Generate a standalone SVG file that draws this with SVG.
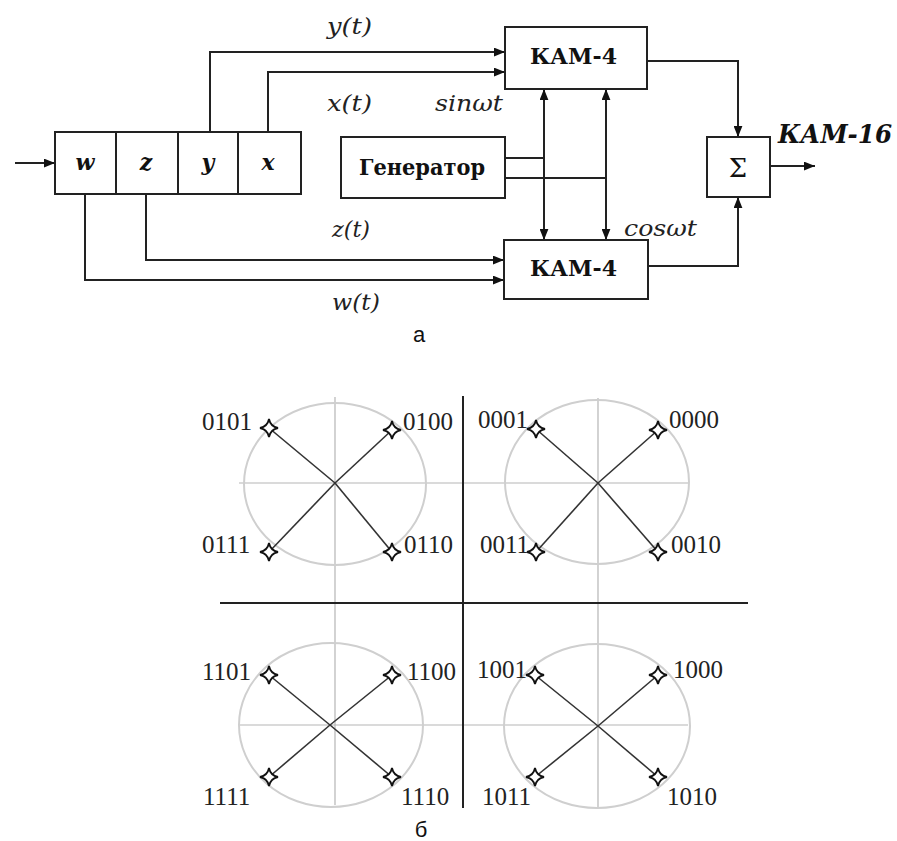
<svg xmlns="http://www.w3.org/2000/svg" width="897" height="841" viewBox="0 0 897 841">
<style>
.bx{fill:#fff;stroke:#222;stroke-width:2}
.cn{fill:none;stroke:#222;stroke-width:2}
.ser{font-family:"DejaVu Serif","Liberation Serif",serif;fill:#111}
.lb{font-family:"DejaVu Serif","Liberation Serif",serif;font-style:italic;font-size:22px;fill:#222}
.reg{font-family:"DejaVu Serif","Liberation Serif",serif;font-style:italic;font-weight:bold;font-size:22px;fill:#111}
.bt{font-family:"DejaVu Serif","Liberation Serif",serif;font-weight:bold;font-size:23px;fill:#111}
.num{font-family:"Liberation Serif","DejaVu Serif",serif;font-size:25px;fill:#222}
.circ{fill:none;stroke:#cfcfcf;stroke-width:2}
.ax{stroke:#b5b5b5;stroke-width:1.2}
.dv{stroke:#222;stroke-width:2}
.vec{stroke:#333;stroke-width:1.6}
.st{fill:#fff;stroke:#111;stroke-width:1.8}
.cap{font-family:"Liberation Sans",Arial,sans-serif;font-size:22px;fill:#111}
</style>
<defs>
<marker id="ah" viewBox="0 0 10 8" refX="10" refY="4" markerWidth="11" markerHeight="9" markerUnits="userSpaceOnUse" orient="auto-start-reverse">
<path d="M0,0 L10,4 L0,8 z" fill="#111"/>
</marker>
<path id="star" d="M0,-9 Q1.5,-1.5 9,0 Q1.5,1.5 0,9 Q-1.5,1.5 -9,0 Q-1.5,-1.5 0,-9 Z"/>
</defs>

<g id="connectors">
<path class="cn" d="M15,163 H55" marker-end="url(#ah)"/>
<path class="cn" d="M210,132 V52 H505" marker-end="url(#ah)"/>
<path class="cn" d="M268,132 V72 H505" marker-end="url(#ah)"/>
<path class="cn" d="M146,194 V260 H504" marker-end="url(#ah)"/>
<path class="cn" d="M85,194 V280 H504" marker-end="url(#ah)"/>
<path class="cn" d="M505,158 H544"/>
<path class="cn" d="M505,178 H606"/>
<path class="cn" d="M544,89 V240" marker-start="url(#ah)" marker-end="url(#ah)"/>
<path class="cn" d="M606,89 V240" marker-start="url(#ah)" marker-end="url(#ah)"/>
<path class="cn" d="M647,61 H738 V137" marker-end="url(#ah)"/>
<path class="cn" d="M648,266 H738 V197" marker-end="url(#ah)"/>
<path class="cn" d="M770,166 H815" marker-end="url(#ah)"/>
</g>

<g id="register">
<rect class="bx" x="55" y="132" width="246" height="62"/>
<line class="dv" x1="116" y1="132" x2="116" y2="194"/>
<line class="dv" x1="178" y1="132" x2="178" y2="194"/>
<line class="dv" x1="238" y1="132" x2="238" y2="194"/>
<text class="reg" x="85" y="170" text-anchor="middle">w</text>
<text class="reg" x="146" y="170" text-anchor="middle">z</text>
<text class="reg" x="208" y="170" text-anchor="middle">y</text>
<text class="reg" x="268" y="170" text-anchor="middle">x</text>
</g>

<g id="kam4-top">
<rect class="bx" x="505" y="27" width="142" height="62"/>
<text class="bt" x="530" y="64" textLength="87" lengthAdjust="spacingAndGlyphs">КАМ-4</text>
</g>

<g id="generator">
<rect class="bx" x="341" y="137" width="164" height="61"/>
<text class="bt" x="359" y="175" textLength="126" lengthAdjust="spacingAndGlyphs">Генератор</text>
</g>

<g id="kam4-bottom">
<rect class="bx" x="504" y="240" width="144" height="59"/>
<text class="bt" x="530" y="276" textLength="87" lengthAdjust="spacingAndGlyphs">КАМ-4</text>
</g>

<g id="sum">
<rect class="bx" x="707" y="137" width="63" height="60"/>
<text class="ser" x="738" y="177" text-anchor="middle" font-size="26">Σ</text>
</g>

<g id="labels-a">
<text class="lb" x="327" y="34" textLength="45" lengthAdjust="spacingAndGlyphs">y(t)</text>
<text class="lb" x="327" y="111" textLength="45" lengthAdjust="spacingAndGlyphs">x(t)</text>
<text class="lb" x="435" y="111" textLength="68" lengthAdjust="spacingAndGlyphs">sinωt</text>
<text class="lb" x="332" y="237" textLength="38" lengthAdjust="spacingAndGlyphs">z(t)</text>
<text class="lb" x="624" y="236" textLength="73" lengthAdjust="spacingAndGlyphs">cosωt</text>
<text class="lb" x="332" y="310" textLength="48" lengthAdjust="spacingAndGlyphs">w(t)</text>
<text class="ser" x="778" y="143" font-size="26" font-weight="bold" font-style="italic" textLength="114" lengthAdjust="spacingAndGlyphs">КАМ-16</text>
<text class="cap" x="419" y="342" text-anchor="middle">а</text>
</g>

<g id="constellation-grid">
<line class="ax" x1="239" y1="483" x2="688" y2="483"/>
<line class="ax" x1="239" y1="725" x2="688" y2="725"/>
<line class="ax" x1="335" y1="397" x2="335" y2="805"/>
<line class="ax" x1="598" y1="398" x2="598" y2="807"/>
<ellipse class="circ" cx="335" cy="484" rx="91" ry="81"/>
<ellipse class="circ" cx="597" cy="482" rx="92" ry="82"/>
<ellipse class="circ" cx="331" cy="725" rx="92" ry="82"/>
<ellipse class="circ" cx="597" cy="726" rx="93" ry="82"/>
<line class="dv" x1="463" y1="396" x2="463" y2="808"/>
<line class="dv" x1="220" y1="603" x2="748" y2="603"/>
</g>

<g id="quadrant-01">
<line class="vec" x1="335" y1="483" x2="269" y2="428"/>
<line class="vec" x1="335" y1="483" x2="392" y2="430"/>
<line class="vec" x1="335" y1="483" x2="269" y2="552"/>
<line class="vec" x1="335" y1="483" x2="392" y2="552"/>
<use href="#star" class="st" x="269" y="428"/>
<use href="#star" class="st" x="392" y="430"/>
<use href="#star" class="st" x="269" y="552"/>
<use href="#star" class="st" x="392" y="552"/>
<text class="num" x="202" y="430">0101</text>
<text class="num" x="403" y="430">0100</text>
<text class="num" x="202" y="553">0111</text>
<text class="num" x="404" y="553">0110</text>
</g>

<g id="quadrant-00">
<line class="vec" x1="598" y1="483" x2="536" y2="429"/>
<line class="vec" x1="598" y1="483" x2="658" y2="430"/>
<line class="vec" x1="598" y1="483" x2="536" y2="552"/>
<line class="vec" x1="598" y1="483" x2="658" y2="552"/>
<use href="#star" class="st" x="536" y="429"/>
<use href="#star" class="st" x="658" y="430"/>
<use href="#star" class="st" x="536" y="552"/>
<use href="#star" class="st" x="658" y="552"/>
<text class="num" x="478" y="428">0001</text>
<text class="num" x="669" y="428">0000</text>
<text class="num" x="480" y="553">0011</text>
<text class="num" x="671" y="553">0010</text>
</g>

<g id="quadrant-11">
<line class="vec" x1="330" y1="725" x2="269" y2="675"/>
<line class="vec" x1="330" y1="725" x2="392" y2="675"/>
<line class="vec" x1="330" y1="725" x2="269" y2="777"/>
<line class="vec" x1="330" y1="725" x2="392" y2="777"/>
<use href="#star" class="st" x="269" y="675"/>
<use href="#star" class="st" x="392" y="675"/>
<use href="#star" class="st" x="269" y="777"/>
<use href="#star" class="st" x="392" y="777"/>
<text class="num" x="202" y="680">1101</text>
<text class="num" x="407" y="680">1100</text>
<text class="num" x="203" y="805">1111</text>
<text class="num" x="401" y="805">1110</text>
</g>

<g id="quadrant-10">
<line class="vec" x1="598" y1="726" x2="535" y2="675"/>
<line class="vec" x1="598" y1="726" x2="658" y2="675"/>
<line class="vec" x1="598" y1="726" x2="535" y2="777"/>
<line class="vec" x1="598" y1="726" x2="658" y2="777"/>
<use href="#star" class="st" x="535" y="675"/>
<use href="#star" class="st" x="658" y="675"/>
<use href="#star" class="st" x="535" y="777"/>
<use href="#star" class="st" x="658" y="777"/>
<text class="num" x="477" y="678">1001</text>
<text class="num" x="673" y="678">1000</text>
<text class="num" x="482" y="805">1011</text>
<text class="num" x="667" y="805">1010</text>
</g>

<g id="caption-b">
<text class="cap" x="421" y="837" text-anchor="middle">б</text>
</g>
</svg>
